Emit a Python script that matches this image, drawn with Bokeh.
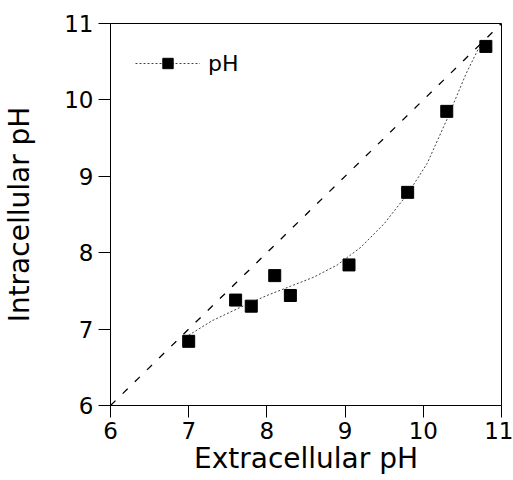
from bokeh.plotting import figure
from bokeh.models import Range1d, Legend, LegendItem, FixedTicker
from bokeh.embed import file_html
from bokeh.resources import INLINE

# measured points
ext_ph = [7.0, 7.60, 7.80, 8.10, 8.30, 9.05, 9.80, 10.30, 10.80]
int_ph = [6.84, 7.38, 7.30, 7.70, 7.44, 7.84, 8.79, 9.85, 10.70]

# smooth fitted curve
fit_x = [7.0, 7.3, 7.65, 8.0, 8.3, 8.6, 8.9, 9.2, 9.5, 9.8, 10.05, 10.3, 10.55, 10.7, 10.8]
fit_y = [6.92, 7.11, 7.28, 7.44, 7.56, 7.68, 7.84, 8.07, 8.38, 8.77, 9.17, 9.74, 10.35, 10.66, 10.80]

# identity line
id_x = [6, 11]
id_y = [6, 11]

ticks = [6, 7, 8, 9, 10, 11]

FONT = "DejaVu Sans"

p = figure(width=513, height=480, output_backend="svg", toolbar_location=None,
           x_range=Range1d(6, 11), y_range=Range1d(6, 11),
           min_border_left=110, min_border_right=12, min_border_top=23, min_border_bottom=75)
p.background_fill_color = "white"
p.border_fill_color = "white"
p.grid.visible = False
p.outline_line_color = "black"
p.outline_line_width = 1

for ax in (p.xaxis[0], p.yaxis[0]):
    ax.ticker = FixedTicker(ticks=ticks)
    ax.minor_tick_line_color = None
    ax.major_tick_out = 12
    ax.major_tick_in = 0
    ax.major_tick_line_color = "black"
    ax.axis_line_color = "black"
    ax.major_label_text_font = FONT
    ax.major_label_text_font_size = "23px"
    ax.major_label_text_color = "black"
    ax.axis_label_text_font = FONT
    ax.axis_label_text_font_size = "28px"
    ax.axis_label_text_font_style = "normal"
    ax.axis_label_text_color = "black"

p.xaxis.axis_label = "Extracellular pH"
p.yaxis.axis_label = "Intracellular pH"
p.xaxis.major_label_standoff = 4
p.xaxis.axis_label_standoff = 0
p.yaxis.major_label_standoff = 5
p.yaxis.axis_label_standoff = 25

p.line(id_x, id_y, line_color="black", line_width=1.3, line_dash="7 10")
fit = p.line(fit_x, fit_y, line_color="#444444", line_width=1, line_dash="2 2")
pts = p.scatter(ext_ph, int_ph, marker="square", size=12, fill_color="black", line_color="black")

legend = Legend(items=[LegendItem(label="pH", renderers=[fit, pts])],
                location=(25, 329), border_line_color=None, background_fill_alpha=0,
                padding=0, margin=0, glyph_width=65, glyph_height=26, label_height=26,
                label_standoff=8, label_text_font=FONT, label_text_font_size="22px",
                label_text_color="black")
p.add_layout(legend, "center")

open("out.html", "w").write(file_html(p, INLINE))
